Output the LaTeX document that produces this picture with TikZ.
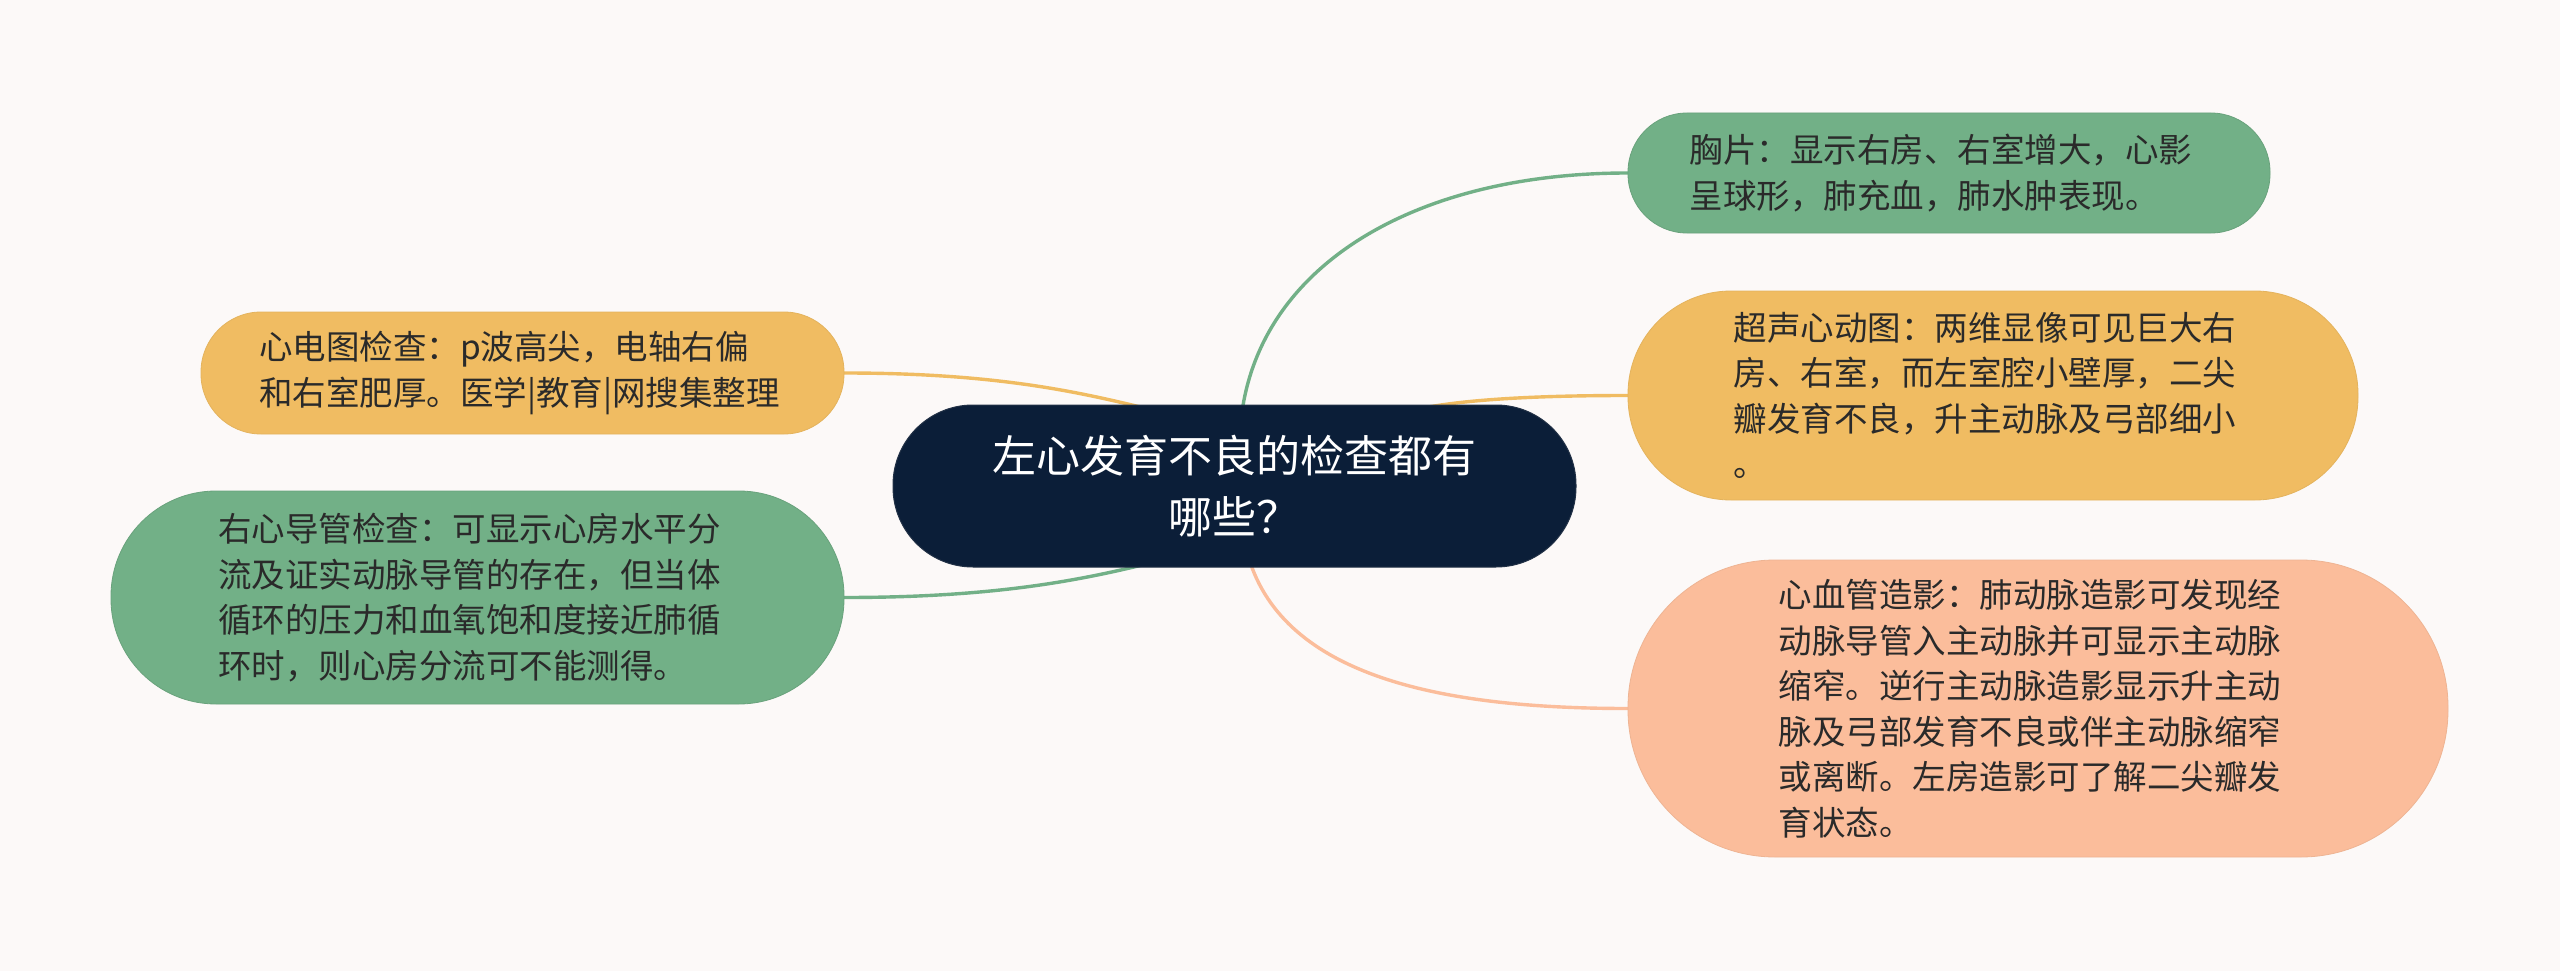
\documentclass[tikz,border=0pt]{standalone}
\usepackage{fontspec}
\newfontfamily\cjk{Noto Sans CJK SC}
\usetikzlibrary{calc}
\pgfdeclarelayer{bg}
\pgfsetlayers{bg,main}
\definecolor{bgc}{HTML}{FCF9F8}
\definecolor{navy}{HTML}{0B1E38}
\definecolor{gfill}{HTML}{72B087}
\definecolor{ofill}{HTML}{F0BC62}
\definecolor{sfill}{HTML}{FBBD9B}
\definecolor{txt}{HTML}{2A2A2A}
\newcommand{\padr}{\hspace*{16pt}}
\begin{document}
\begin{tikzpicture}[x=1pt,y=-1pt,
  leaf/.style={inner sep=0pt, align=left, text=txt, font=\cjk\fontsize{33.5}{45.5}\selectfont},
  greenbox/.style={leaf, fill=gfill, draw=gfill!92!black, line width=0.8pt},
  orangebox/.style={leaf, fill=ofill, draw=ofill!95!black, line width=0.8pt},
  salmonbox/.style={leaf, fill=sfill, draw=sfill!95!black, line width=0.8pt},
  rootbox/.style={inner sep=0pt, align=center, text=white, fill=navy, draw=navy!80!gray, line width=1pt,
    font=\cjk\fontsize{44}{60.5}\selectfont},
  link/.style={line width=3.4pt, line cap=round},
  glink/.style={link, draw=gfill},
  olink/.style={link, draw=ofill},
  slink/.style={link, draw=sfill}]
\useasboundingbox (0,0) rectangle (2560,971);
\begin{pgfonlayer}{bg}
\fill[bgc] (0,0) rectangle (2560,971);
\end{pgfonlayer}

\node[rootbox, minimum width=683pt, minimum height=162pt, rounded corners=80pt] (c) at (1234.5,486)
  {左心发育不良的检查都有\\哪些？};

\node[greenbox, minimum width=642pt, minimum height=120pt, rounded corners=59pt] (n1) at (1949,173)
  {胸片：显示右房、右室增大，心影\padr\\呈球形，肺充血，肺水肿表现。};

\node[orangebox, minimum width=730pt, minimum height=209pt, rounded corners=103pt] (n2) at (1993,395.5)
  {超声心动图：两维显像可见巨大右\padr\\房、右室，而左室腔小壁厚，二尖\\瓣发育不良，升主动脉及弓部细小\\。};

\node[salmonbox, minimum width=820pt, minimum height=297pt, rounded corners=147pt] (n3) at (2038,708.5)
  {心血管造影：肺动脉造影可发现经\padr\\动脉导管入主动脉并可显示主动脉\\缩窄。逆行主动脉造影显示升主动\\脉及弓部发育不良或伴主动脉缩窄\\或离断。左房造影可了解二尖瓣发\\育状态。};

\node[orangebox, minimum width=643pt, minimum height=122pt, rounded corners=60pt] (l1) at (522.5,373)
  {心电图检查：p波高尖，电轴右偏\\和右室肥厚。医学|教育|网搜集整理\hspace*{6pt}};

\node[greenbox, minimum width=733pt, minimum height=213pt, rounded corners=105pt] (l2) at (477.5,597.5)
  {右心导管检查：可显示心房水平分\padr\\流及证实动脉导管的存在，但当体\\循环的压力和血氧饱和度接近肺循\\环时，则心房分流可不能测得。};

\begin{pgfonlayer}{bg}
\draw[glink] ($(c.north)+(8,4)$) .. controls +(23,-147) and +(-208,0) .. (n1.west);
\draw[olink] ($(c.north)+(186,4)$) .. controls +(50,-10) and +(-80,0) .. (n2.west);
\draw[slink] ($(c.south)+(16,-4)$) .. controls +(40,116) and +(-178,0) .. (n3.west);
\draw[olink] (l1.east) .. controls +(150,0) and +(-70,-17) .. ($(c.north)+(-88,4)$);
\draw[glink] (l2.east) .. controls +(150,0) and +(-70,17) .. ($(c.south)+(-86,-4)$);
\end{pgfonlayer}
\end{tikzpicture}
\end{document}
